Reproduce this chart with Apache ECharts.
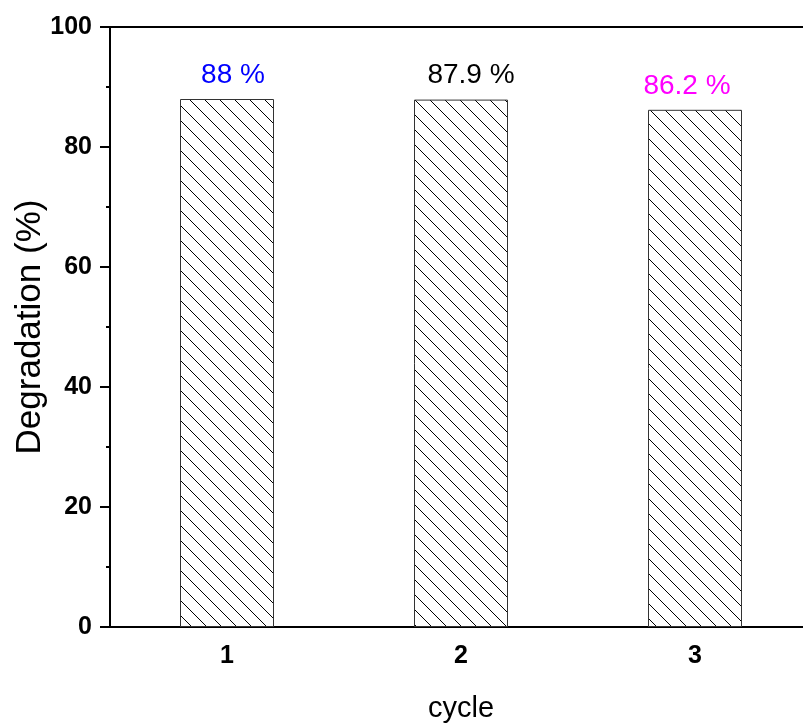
<!DOCTYPE html>
<html>
<head>
<meta charset="utf-8">
<script src="https://cdn.jsdelivr.net/npm/echarts@6/dist/echarts.min.js"></script>
<style>
  html, body { margin: 0; padding: 0; background: #fff; }
  #main { width: 803px; height: 726px; }
</style>
</head>
<body>
<div id="main"></div>
<script>
// data
var cycles = ['1', '2', '3'];
var degradation = [88, 87.9, 86.2];
var labelTexts = ['88 %', '87.9 %', '86.2 %'];

var FONT = '"Liberation Sans", Arial, sans-serif';

// hatch pattern "\\\"
function makeHatch() {
    var s = 15;
    var c = document.createElement('canvas');
    c.width = s; c.height = s;
    var ctx = c.getContext('2d');
    ctx.fillStyle = '#fff';
    ctx.fillRect(0, 0, s, s);
    ctx.strokeStyle = '#000';
    ctx.lineWidth = 1;
    [-s, 0, s].forEach(function (k) {
        ctx.beginPath();
        ctx.moveTo(k, 0);
        ctx.lineTo(k + s, s);
        ctx.stroke();
    });
    return c;
}
var hatch = makeHatch();

// label colour / nudge per bar
var labelColors = ['#0000ff', '#000000', '#ff00ff'];
var labelShift = [6, 10, -8];

var barData = degradation.map(function (v, i) {
    return {
        value: v,
        label: {
            formatter: labelTexts[i],
            color: labelColors[i],
            offset: [labelShift[i], 0]
        }
    };
});

var chart = echarts.init(document.getElementById('main'));

var option = {
    animation: false,
    // plot runs a little past the right edge of the picture
    grid: { left: 110, right: -9, top: 27, bottom: 99, outerBoundsMode: 'none', containLabel: false },
    xAxis: [{
        type: 'category',
        data: cycles,
        position: 'bottom',
        boundaryGap: true,
        name: 'cycle',
        nameLocation: 'middle',
        nameGap: 67,
        nameMoveOverlap: false,
        nameTextStyle: { fontSize: 29, color: '#000', fontFamily: FONT },
        axisLine: { lineStyle: { color: '#000', width: 2 } },
        axisTick: { alignWithLabel: true, length: 11, lineStyle: { color: '#000', width: 2 } },
        axisLabel: { fontSize: 25, fontWeight: 'bold', color: '#000', fontFamily: FONT, margin: 17 },
        splitLine: { show: false }
    }, {
        // minor ticks between cycles
        type: 'category',
        data: cycles,
        position: 'bottom',
        boundaryGap: true,
        axisLine: { show: false },
        axisTick: { alignWithLabel: false, length: 5, lineStyle: { color: '#000', width: 2 } },
        axisLabel: { show: false },
        splitLine: { show: false }
    }, {
        // top frame line
        type: 'category',
        data: cycles,
        position: 'top',
        axisLine: { lineStyle: { color: '#000', width: 2 } },
        axisTick: { show: false },
        axisLabel: { show: false },
        splitLine: { show: false }
    }],
    yAxis: {
        type: 'value',
        min: 0,
        max: 100,
        interval: 20,
        name: 'Degradation (%)',
        nameLocation: 'middle',
        nameGap: 62,
        nameMoveOverlap: false,
        nameTextStyle: { fontSize: 35, color: '#000', fontFamily: FONT },
        axisLine: { show: true, lineStyle: { color: '#000', width: 2 } },
        axisTick: { show: true, length: 10, lineStyle: { color: '#000', width: 2 } },
        minorTick: { show: true, splitNumber: 2, length: 4, lineStyle: { color: '#000', width: 2 } },
        axisLabel: { fontSize: 25, fontWeight: 'bold', color: '#000', fontFamily: FONT, margin: 18 },
        splitLine: { show: false }
    },
    series: [{
        type: 'bar',
        xAxisIndex: 0,
        barWidth: 94,
        data: barData,
        itemStyle: {
            color: { image: hatch, repeat: 'repeat' },
            borderColor: '#333',
            borderWidth: 1
        },
        label: {
            show: true,
            position: 'top',
            distance: 10,
            fontSize: 28,
            fontFamily: FONT
        }
    }]
};

chart.setOption(option);
</script>
</body>
</html>
